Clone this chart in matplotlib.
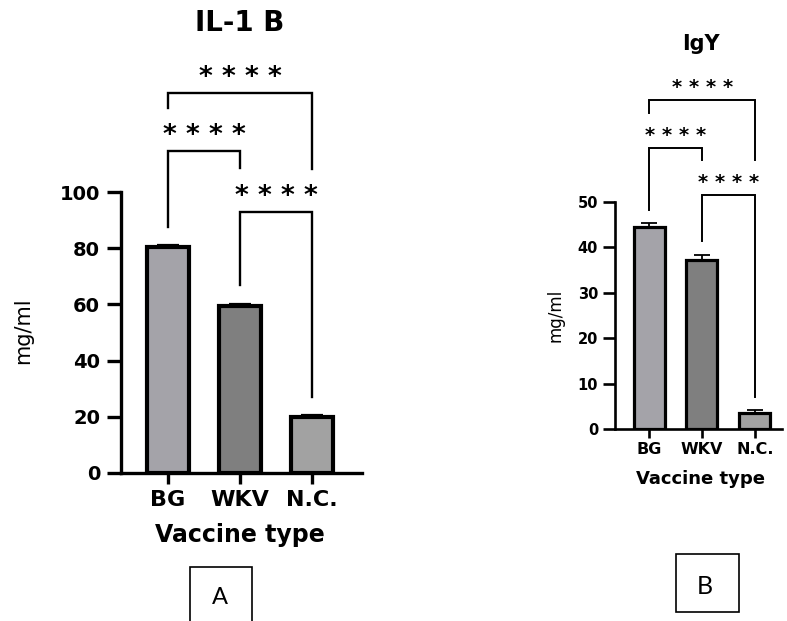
import matplotlib
matplotlib.use("Agg")
import matplotlib.pyplot as plt
from matplotlib.patches import Rectangle

groups = ["BG", "WKV", "N.C."]
il1b_mean = [80.5, 59.3, 20.0]
il1b_err = [0.6, 1.0, 0.5]
igy_mean = [44.5, 37.2, 3.5]
igy_err = [0.8, 1.1, 0.7]
bar_colors = ["#a4a3a9", "#7f7f7f", "#a2a2a2"]
sig_label = "****"

W, H = 787, 621
fig = plt.figure(figsize=(W / 100, H / 100), dpi=100)
plt.rcParams["font.family"] = ["DejaVu Sans"]


def px(x, y):
    # pixel position (from top-left) -> figure fraction
    return x / W, 1 - y / H


def make_axes(left, right, top, bottom):
    return fig.add_axes([left / W, 1 - bottom / H, (right - left) / W, (bottom - top) / H])


def draw_panel(ax, means, errs, ylim, yticks, xlim, cfg):
    ax.bar(range(len(groups)), means, width=cfg["bw"], color=bar_colors,
           edgecolor="black", linewidth=cfg["edge"], zorder=2)
    ax.errorbar(range(len(groups)), means, yerr=[[0] * len(errs), errs], fmt="none",
                ecolor="black", elinewidth=cfg["elw"], capsize=cfg["cap"],
                capthick=cfg["elw"], zorder=1)
    ax.set_ylim(*ylim)
    ax.set_xlim(*xlim)
    ax.set_yticks(yticks)
    ax.set_xticks(range(len(groups)))
    ax.set_xticklabels(groups)
    for s in ["top", "right"]:
        ax.spines[s].set_visible(False)
    for s in ["left", "bottom"]:
        ax.spines[s].set_linewidth(cfg["spine"])
    ax.tick_params(axis="y", length=cfg["ytl"], width=cfg["spine"], pad=cfg["ypad"],
                   labelsize=cfg["yfs"])
    ax.tick_params(axis="x", length=cfg["xtl"], width=cfg["spine"], pad=cfg["xpad"],
                   labelsize=cfg["xfs"])
    for lab in ax.get_xticklabels() + ax.get_yticklabels():
        lab.set_fontweight("bold")
    ax.patch.set_visible(False)


def draw_brackets(ax, brackets, lw, fs, off, pitch):
    for i, j, top, li, lj in brackets:
        ax.plot([i, i, j, j], [li, top, top, lj], color="black", lw=lw,
                clip_on=False, solid_joinstyle="miter")
        n = len(sig_label)
        for k, ch in enumerate(sig_label):
            dx = (k - (n - 1) / 2) * pitch
            ax.annotate(ch, xy=((i + j) / 2, top), xytext=(dx, off),
                        textcoords="offset points", ha="center", va="baseline",
                        fontsize=fs, fontweight="bold", annotation_clip=False)


# Panel A: IL-1 B
axA = make_axes(121, 362, 192, 473)
draw_panel(axA, il1b_mean, il1b_err, (0, 100), [0, 20, 40, 60, 80, 100], (-0.653, 2.694),
           dict(bw=0.59, edge=3.0, elw=1.6, cap=8, spine=2.4, ytl=10, xtl=8,
                ypad=5, xpad=4, yfs=14, xfs=16))
draw_brackets(axA, [(0, 1, 114.7, 87.4, 108.7),
                    (0, 2, 135.3, 130.0, 108.3),
                    (1, 2, 93.0, 66.8, 27.0)], lw=1.7, fs=19, off=5.7, pitch=16.5)

# Panel B: IgY
axB = make_axes(615, 782, 202, 429)
draw_panel(axB, igy_mean, igy_err, (0, 50), [0, 10, 20, 30, 40, 50], (-0.642, 2.51),
           dict(bw=0.585, edge=2.3, elw=1.3, cap=6, spine=1.9, ytl=8.6, xtl=6.5,
                ypad=3.5, xpad=3, yfs=10.5, xfs=11.5))
draw_brackets(axB, [(0, 1, 62.0, 48.2, 59.3),
                    (0, 2, 72.5, 69.7, 59.3),
                    (1, 2, 51.5, 41.3, 7.1)], lw=1.4, fs=14, off=4.9, pitch=12.3)

# titles and axis labels
fig.text(*px(240, 31), "IL-1 B", ha="center", va="baseline", fontsize=20, fontweight="bold")
fig.text(*px(701, 50), "IgY", ha="center", va="baseline", fontsize=15, fontweight="bold")
fig.text(*px(23, 331), "mg/ml", ha="center", va="center", rotation=90, fontsize=15)
fig.text(*px(556, 315), "mg/ml", ha="center", va="center", rotation=90, fontsize=12)
fig.text(*px(240, 542), "Vaccine type", ha="center", va="baseline", fontsize=17, fontweight="bold")
fig.text(*px(701, 484), "Vaccine type", ha="center", va="baseline", fontsize=13, fontweight="bold")

# panel tags in boxes
for (x0, x1, y0, y1, tag, tx, ty, fs) in [(190, 252, 567, 630, "A", 220, 597, 17),
                                           (676, 739, 554, 612, "B", 705, 586, 18)]:
    l, b = px(x0, y1)
    fig.patches.append(Rectangle((l, b), (x1 - x0) / W, (y1 - y0) / H, transform=fig.transFigure,
                                 fill=False, edgecolor="black", linewidth=1.2))
    fig.text(*px(tx, ty), tag, ha="center", va="center", fontsize=fs, family=["Lato", "DejaVu Sans"])

fig.savefig("out.png", dpi=100)
